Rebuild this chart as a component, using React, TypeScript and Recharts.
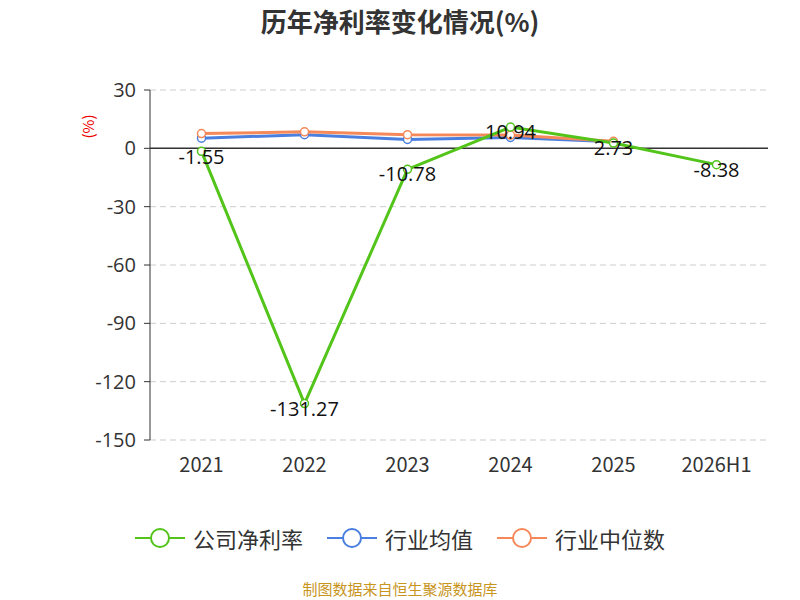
import { LineChart, Line, XAxis, YAxis, CartesianGrid, ReferenceLine, LabelList } from 'recharts';

const years = ['2021', '2022', '2023', '2024', '2025', '2026H1'];
const companyRate = [-1.55, -131.27, -10.78, 10.94, 2.73, -8.38];
const industryAvg = [5.2, 7.0, 4.6, 5.6, 3.4, null];
const industryMedian = [7.6, 8.5, 7.0, 6.8, 3.6, null];
const yTicks = [30, 0, -30, -60, -90, -120, -150];

const data = years.map((y, i) => ({
  year: y,
  company: companyRate[i],
  avg: industryAvg[i],
  median: industryMedian[i],
}));

const legendItems = [
  { name: '公司净利率', color: '#52c41a' },
  { name: '行业均值', color: '#4a7fe0' },
  { name: '行业中位数', color: '#f5895a' },
];

export default function App() {
  return (
    <div style={{ position: 'absolute', left: 0, top: 0, width: 800, height: 600, background: '#fff', fontFamily: '"Noto Sans CJK SC", "Noto Sans", sans-serif' }}>
      <div style={{ position: 'absolute', top: 2, width: 800, textAlign: 'center', fontSize: 26, fontWeight: 'bold', color: '#333' }}>
        历年净利率变化情况(%)
      </div>
      <div style={{ position: 'absolute', left: 76, top: 116, color: '#e00', fontSize: 15, transform: 'rotate(-90deg)' }}>(%)</div>
      <LineChart width={800} height={600} data={data} margin={{ top: 90, right: 32, left: 90, bottom: 120 }}>
        <CartesianGrid vertical={false} stroke="#ccc" strokeDasharray="6 4" />
        <XAxis dataKey="year" scale="band" axisLine={false} tickLine={false} height={40} tick={{ fill: '#333', fontSize: 20 }} dy={10} />
        <XAxis xAxisId="zero" dataKey="year" scale="band" orientation="top" hide />
        <YAxis domain={[-150, 30]} ticks={yTicks} interval={0} stroke="#333" tick={{ fill: '#333', fontSize: 20, fontFamily: '"Open Sans", sans-serif' }} tickSize={6} tickMargin={8} width={60} />
        <ReferenceLine y={0} stroke="#333" strokeWidth={1.5} />
        <Line dataKey="avg" stroke="#4a7fe0" strokeWidth={3} dot={{ r: 4, fill: '#fff', strokeWidth: 1.5 }} isAnimationActive={false} />
        <Line dataKey="median" stroke="#f5895a" strokeWidth={3} dot={{ r: 4, fill: '#fff', strokeWidth: 1.5 }} isAnimationActive={false} />
        <Line dataKey="company" stroke="#52c41a" strokeWidth={3} dot={{ r: 4, fill: '#fff', strokeWidth: 1.5 }} isAnimationActive={false}>
          <LabelList dataKey="company" position="bottom" offset={-2} style={{ fill: '#111', fontSize: 20, fontFamily: '"Open Sans", sans-serif' }} />
        </Line>
      </LineChart>
      <div style={{ position: 'absolute', top: 522, width: 800, display: 'flex', justifyContent: 'center', gap: 24, fontSize: 22, color: '#333' }}>
        {legendItems.map((it) => (
          <div key={it.name} style={{ display: 'flex', alignItems: 'center', gap: 8 }}>
            <svg width={50} height={24}>
              <line x1={0} y1={12} x2={50} y2={12} stroke={it.color} strokeWidth={2} />
              <circle cx={25} cy={12} r={9} fill="#fff" stroke={it.color} strokeWidth={2} />
            </svg>
            <span>{it.name}</span>
          </div>
        ))}
      </div>
      <div style={{ position: 'absolute', top: 578, width: 800, textAlign: 'center', fontSize: 15, color: '#c8951e' }}>制图数据来自恒生聚源数据库</div>
    </div>
  );
}
